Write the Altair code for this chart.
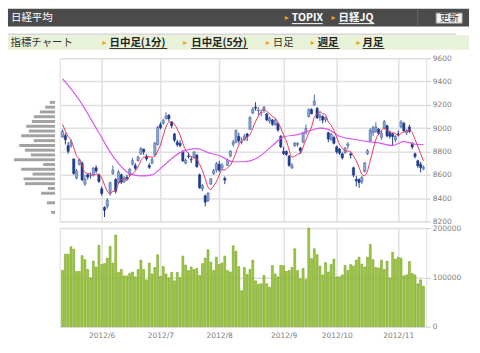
import altair as alt
import pandas as pd

# ---------------- data ----------------
# trading days 2012/5/14 .. 2012/11/14 (index 0..129)
opens = [8923, 8936, 8850, 8850, 8735, 8570, 8690, 8700, 8520, 8600,
         8590, 8600, 8660, 8600, 8480, 8320, 8330, 8440, 8610, 8560,
         8530, 8600, 8540, 8580, 8600, 8690, 8680, 8720, 8780, 8820,
         8760, 8680, 8700, 8770, 8860, 9030, 9040, 9080, 9110, 9050,
         8950, 8880, 8870, 8800, 8700, 8760, 8730, 8750, 8770, 8600,
         8480, 8420, 8380, 8520, 8610, 8640, 8690, 8660, 8570, 8680,
         8760, 8862, 8880, 8930, 8880, 8900, 8950, 8990, 9130, 9180,
         9150, 9130, 9150, 9120, 9060, 9070, 9030, 9040, 8930, 8800,
         8800, 8760, 8660, 8850, 8860, 8830, 8880, 8960, 9100, 9160,
         9200, 9170, 9090, 9100, 9070, 8960, 8900, 8920, 8840, 8820,
         8780, 8790, 8850, 8780, 8660, 8560, 8560, 8540, 8630, 8780,
         8890, 8960, 8970, 8990, 8920, 9000, 9020, 8960, 8950, 8900,
         8950, 9010, 9040, 8960, 9010, 8870, 8780, 8720, 8690, 8650]
highs = [8990, 8956, 8880, 8900, 8742, 8650, 8740, 8715, 8600, 8610,
         8620, 8665, 8680, 8610, 8500, 8330, 8400, 8540, 8680, 8570,
         8640, 8610, 8590, 8600, 8660, 8745, 8700, 8765, 8840, 8825,
         8775, 8700, 8745, 8880, 9020, 9050, 9080, 9136, 9120, 9060,
         8960, 8900, 8895, 8810, 8740, 8790, 8760, 8800, 8775, 8610,
         8520, 8430, 8450, 8570, 8650, 8710, 8720, 8700, 8585, 8740,
         8810, 8900, 8990, 8960, 8920, 8950, 8960, 9100, 9180, 9222,
         9180, 9160, 9190, 9130, 9100, 9080, 9080, 9050, 8940, 8840,
         8810, 8770, 8700, 8880, 8880, 8840, 8970, 9030, 9170, 9170,
         9288, 9180, 9140, 9110, 9100, 8970, 8960, 8935, 8850, 8830,
         8790, 8840, 8880, 8790, 8670, 8590, 8570, 8590, 8710, 8820,
         9000, 9020, 9050, 9000, 8980, 9070, 9030, 8980, 8960, 8940,
         8980, 9070, 9055, 8990, 9030, 8880, 8790, 8730, 8710, 8680]
lows = [8920, 8860, 8780, 8830, 8601, 8560, 8680, 8545, 8505, 8560,
        8565, 8595, 8615, 8530, 8420, 8238, 8310, 8420, 8600, 8440,
        8520, 8520, 8530, 8550, 8590, 8680, 8640, 8715, 8770, 8770,
        8720, 8650, 8690, 8755, 8850, 8990, 9030, 9075, 9060, 9000,
        8880, 8840, 8835, 8710, 8690, 8740, 8700, 8740, 8660, 8480,
        8460, 8330, 8365, 8515, 8600, 8620, 8625, 8640, 8520, 8675,
        8750, 8840, 8870, 8870, 8860, 8890, 8890, 8985, 9120, 9150,
        9110, 9100, 9130, 9060, 9040, 9020, 9020, 8970, 8830, 8770,
        8760, 8670, 8650, 8840, 8840, 8780, 8870, 8945, 9090, 9120,
        9190, 9080, 9060, 9040, 9050, 8880, 8890, 8860, 8780, 8770,
        8730, 8780, 8820, 8740, 8580, 8500, 8488, 8520, 8620, 8770,
        8880, 8930, 8960, 8940, 8900, 8990, 8920, 8910, 8850, 8880,
        8930, 9000, 8970, 8940, 8960, 8820, 8740, 8660, 8620, 8640]
closes = [8974, 8901, 8801, 8877, 8611, 8633, 8729, 8557, 8563, 8580,
          8593, 8658, 8633, 8543, 8440, 8296, 8383, 8533, 8640, 8459,
          8625, 8537, 8569, 8569, 8647, 8721, 8656, 8752, 8824, 8798,
          8735, 8664, 8730, 8874, 9007, 9003, 9067, 9104, 9080, 9021,
          8897, 8858, 8851, 8720, 8724, 8755, 8727, 8796, 8670, 8488,
          8508, 8366, 8443, 8567, 8635, 8695, 8640, 8684, 8555, 8726,
          8803, 8881, 8979, 8891, 8885, 8929, 8929, 9093, 9163, 9171,
          9156, 9132, 9178, 9070, 9085, 9033, 9069, 8984, 8840, 8783,
          8775, 8680, 8681, 8872, 8869, 8807, 8960, 8995, 9159, 9123,
          9232, 9087, 9110, 9069, 9092, 8907, 8949, 8870, 8797, 8786,
          8746, 8825, 8864, 8769, 8597, 8547, 8534, 8578, 8702, 8807,
          8982, 9003, 9011, 8955, 8955, 9056, 8934, 8930, 8928, 8928,
          8946, 9052, 8975, 8975, 8972, 8838, 8757, 8677, 8662, 8665]
volumes = [114000, 147000, 147000, 162000, 157000, 112000, 112000, 144000, 136000, 116000,
           99000, 133000, 121000, 165000, 126000, 128000, 139000, 163000, 129000, 186000,
           110000, 116000, 103000, 103000, 108000, 111000, 101000, 116000, 135000, 116000,
           95000, 129000, 107000, 120000, 146000, 102000, 122000, 107000, 99000, 110000,
           93000, 110000, 100000, 143000, 125000, 114000, 121000, 116000, 118000, 104000,
           128000, 139000, 156000, 131000, 114000, 141000, 126000, 129000, 143000, 114000,
           111000, 164000, 153000, 122000,
           73000, 120000, 106000, 116000, 135000, 93000, 86000, 87000, 104000, 87000,
           80000, 124000, 107000, 101000, 124000, 124000, 112000, 114000, 120000, 158000,
           114000, 97000, 118000, 96000, 200000, 138000, 158000, 146000, 123000, 105000,
           130000, 111000, 126000, 137000, 101000, 101000, 105000, 124000, 114000, 126000,
           123000, 135000, 141000, 127000, 121000, 141000, 167000, 136000, 120000, 119000,
           135000, 116000, 133000, 99000, 151000, 137000, 141000, 139000, 103000, 105000,
           132000, 108000, 105000, 87000, 95000, 82000]
# closes of the four sessions before the first bar (start level of the red 5-day line)
prior_closes = [9181, 9045, 9009, 8953]

# 25-day moving average (magenta), read at points along the line
ma25_idx = [0, 6, 13, 18, 24, 28, 32, 36, 42, 48, 52, 56, 61, 65, 70,
            75, 79, 84, 88, 92, 95, 99, 104, 109, 113, 118, 122, 126, 129]
ma25_val = [9424, 9240, 8960, 8760, 8610, 8590, 8600, 8675, 8790, 8825, 8790, 8765, 8712, 8712, 8750,
            8850, 8925, 8945, 8975, 9000, 8990, 8930, 8905, 8885, 8874, 8850, 8885, 8862, 8858]

# volume-at-price profile (left histogram)
vp_price = [9221, 9180, 9139, 9098, 9057, 9016, 8975, 8934, 8893, 8852, 8811,
            8770, 8729, 8688, 8647, 8606, 8565, 8524, 8483, 8442, 8360, 8278]
vp_volume = [53, 100, 153, 213, 233, 290, 263, 340, 213, 360, 303,
             243, 413, 120, 340, 226, 316, 303, 73, 140, 83, 40]

price_ticks = [8200, 8400, 8600, 8800, 9000, 9200, 9400, 9600]
volume_ticks = [0, 100000, 200000]
month_starts = [14, 35, 56, 79, 98, 120]
month_labels = ["2012/6", "2012/7", "2012/8", "2012/9", "2012/10", "2012/11"]

# ---------------- tables ----------------
n = len(closes)
ma5 = pd.Series(prior_closes + closes).rolling(5).mean().iloc[len(prior_closes):].round(1).tolist()
df = pd.DataFrame({"i": list(range(n)), "open": opens, "high": highs, "low": lows,
                   "close": closes, "volume": volumes, "ma5": ma5})
ma25_df = pd.DataFrame({"i": ma25_idx, "v": ma25_val})
vp_df = pd.DataFrame({"p": vp_price, "w": vp_volume})

# ---------------- styling ----------------
GRID = "#e0e0e0"
LABEL_FONT = "DejaVu Sans"
CJK = "Noto Sans CJK JP"
xsc = alt.Scale(domain=[-1, 130], nice=False, zero=False, padding=0)
ysc = alt.Scale(domain=[8200, 9600], nice=False, zero=False, padding=0)

x_axis_main = alt.Axis(values=month_starts, labels=False, ticks=False, domain=False,
                       grid=True, gridColor=GRID, gridWidth=1.5, title=None)
y_axis_main = alt.Axis(orient="right", values=price_ticks, format="d", grid=True, gridColor=GRID,
                       gridWidth=1.5, domain=False, ticks=True, tickSize=4, tickColor="#c8c8c8",
                       labelPadding=2, labelFont=LABEL_FONT, labelFontSize=7.5, labelColor="#808080",
                       labelFlush=False, title=None)


def xm():
    return alt.X("i:Q", scale=xsc, axis=x_axis_main)


def ym(field):
    return alt.Y(f"{field}:Q", scale=ysc, axis=y_axis_main)


UP = "datum.close >= datum.open"
base = alt.Chart(df)
wick = base.mark_rule(strokeWidth=1).encode(
    x=xm(), y=ym("low"), y2="high:Q",
    color=alt.condition(UP, alt.value("#4a67a8"), alt.value("#1d3b8c")))
body = base.mark_bar(size=2.2, strokeWidth=0.6).encode(
    x=xm(), y=ym("open"), y2="close:Q",
    fill=alt.condition(UP, alt.value("#8ea8d2"), alt.value("#1d3b8c")),
    stroke=alt.condition(UP, alt.value("#4a67a8"), alt.value("#1d3b8c")))
line25 = alt.Chart(ma25_df).mark_line(color="#d85cf2", strokeWidth=1.2, interpolate="monotone").encode(
    x=xm(), y=ym("v"))
line5 = base.mark_line(color="#e8355f", strokeWidth=1, interpolate="monotone").encode(
    x=xm(), y=ym("ma5"))
hist = alt.Chart(vp_df).mark_bar(orient="horizontal", size=3, color="#a3a3a3").encode(
    x=alt.X("w:Q", scale=alt.Scale(domain=[0, 420], range=[-4.7, -46.7], padding=0), axis=None),
    y=ym("p"))

main = alt.layer(alt.layer(wick, body, line25, line5), hist).resolve_scale(
    x="independent").properties(width=368, height=164)

label_expr = "[" + ",".join(f"'{m}'" for m in month_labels) + "][indexof([" + \
    ",".join(str(m) for m in month_starts) + "], datum.value)]"
vol = alt.Chart(df).mark_bar(size=1.9, fill="#a2c846", stroke="#73a21e", strokeWidth=0.6).encode(
    x=alt.X("i:Q", scale=xsc, axis=alt.Axis(values=month_starts, labelExpr=label_expr, ticks=False,
                                            domain=False, grid=True, gridColor=GRID, gridWidth=1.5,
                                            labelPadding=5, labelFont=LABEL_FONT, labelFontSize=7.5,
                                            labelColor="#808080", labelFlush=False, title=None)),
    y=alt.Y("volume:Q", scale=alt.Scale(domain=[0, 200000], nice=False, padding=0),
            axis=alt.Axis(orient="right", values=volume_ticks, format="d", grid=True, gridColor=GRID,
                          gridWidth=1.5, domain=False, ticks=True, tickSize=4, tickColor="#c8c8c8",
                          labelPadding=2, labelFont=LABEL_FONT, labelFontSize=7.5,
                          labelColor="#808080", labelFlush=False, title=None)),
).properties(width=368, height=99)

# ---------------- header (page chrome) ----------------
hx = alt.Scale(domain=[0, 480], range=[-59, 421])
hy = alt.Scale(domain=[0, 50], range=[0, 50])
rects = pd.DataFrame([
    dict(x=7, x2=470, y=7, y2=25, c="#4b4b4b"),
    dict(x=418, x2=419, y=7, y2=25, c="#6a6a6a"),
    dict(x=7, x2=457, y=32, y2=33.7, c="#d6d6d6"),
    dict(x=7, x2=470, y=33.7, y2=48.3, c="#e8f2d8"),
])
button = pd.DataFrame([dict(x=437, x2=463, y=11.5, y2=21.5)])
arrows = pd.DataFrame([dict(x=x, y=y) for x, y in
                       [(285, 16.5), (332, 16.5), (102, 41.5), (183, 41.5), (266, 41.5), (311, 41.5), (357, 41.5)]])
texts_norm = pd.DataFrame([
    dict(x=10, y=16.3, t="日経平均", c="#ffffff"),
    dict(x=9.5, y=41.5, t="指標チャート", c="#333333"),
    dict(x=273, y=41.5, t="日足", c="#333333"),
])
texts_bold = pd.DataFrame([
    dict(x=292, y=16.5, t="TOPIX", c="#ffffff"),
    dict(x=339, y=16.5, t="日経JQ", c="#ffffff"),
    dict(x=109, y=41.5, t="日中足(1分)", c="#222222"),
    dict(x=191, y=41.5, t="日中足(5分)", c="#222222"),
    dict(x=318, y=41.5, t="週足", c="#222222"),
    dict(x=363, y=41.5, t="月足", c="#222222"),
])
underl = pd.DataFrame([
    dict(x=292, x2=323, y=22, c="#ffffff"), dict(x=339, x2=375, y=22, c="#ffffff"),
    dict(x=109, x2=167, y=47, c="#333333"), dict(x=191, x2=248, y=47, c="#333333"),
    dict(x=318, x2=340, y=47, c="#333333"), dict(x=363, x2=385, y=47, c="#333333"),
])
btn_text = pd.DataFrame([dict(x=450, y=16.7, t="更新")])


def HX(f="x"):
    return alt.X(f"{f}:Q", scale=hx, axis=None)


def HY(f="y"):
    return alt.Y(f"{f}:Q", scale=hy, axis=None)


h_rects = alt.Chart(rects).mark_rect().encode(x=HX(), x2="x2:Q", y=HY(), y2="y2:Q",
                                              color=alt.Color("c:N", scale=None))
h_btn = alt.Chart(button).mark_rect(fill="#f2f2f2", stroke="#a8a8a8", strokeWidth=1).encode(
    x=HX(), x2="x2:Q", y=HY(), y2="y2:Q")
h_btn_t = alt.Chart(btn_text).mark_text(font=CJK, fontSize=9.5, color="#333333", align="center",
                                        baseline="middle").encode(x=HX(), y=HY(), text="t:N")
h_arrows = alt.Chart(arrows).mark_text(text="▸", font="DejaVu Sans", fontSize=8, color="#f0a028",
                                       align="left", baseline="middle").encode(x=HX(), y=HY())
h_norm = alt.Chart(texts_norm).mark_text(font=CJK, fontSize=10.5, align="left", baseline="middle").encode(
    x=HX(), y=HY(), text="t:N", color=alt.Color("c:N", scale=None))
h_bold = alt.Chart(texts_bold).mark_text(font=CJK, fontSize=10.5, fontWeight="bold", align="left",
                                         baseline="middle").encode(
    x=HX(), y=HY(), text="t:N", color=alt.Color("c:N", scale=None))
h_ul = alt.Chart(underl).mark_rule(strokeWidth=1).encode(x=HX(), x2="x2:Q", y=HY(),
                                                         color=alt.Color("c:N", scale=None))

header = alt.layer(h_rects, h_btn, h_btn_t, h_arrows, h_norm, h_bold, h_ul).properties(
    width=368, height=50, view=alt.ViewBackground(stroke="transparent"))

chart = alt.vconcat(header, main, vol, spacing=6.65, bounds="flush").properties(
    padding={"left": 7, "top": 0, "right": 10, "bottom": 10}
).configure_view(stroke="#d2d2d2").configure(background="#ffffff")

chart.save("out.html", embed_options={"renderer": "svg", "actions": False})
